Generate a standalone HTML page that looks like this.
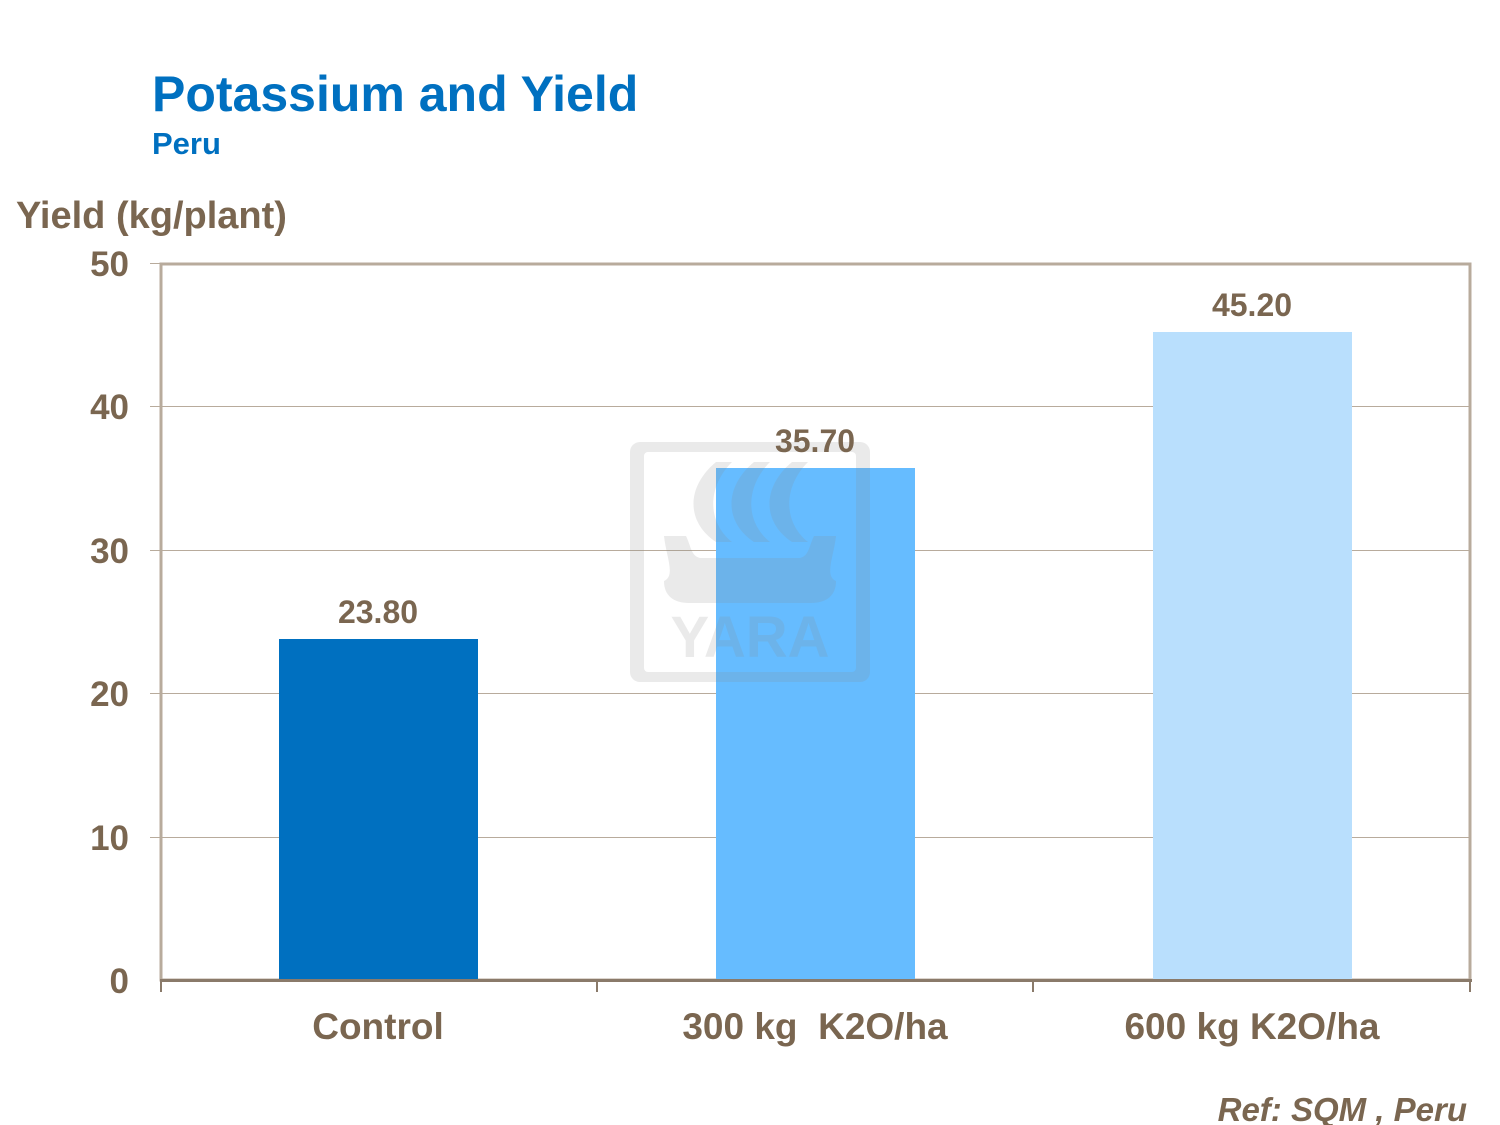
<!DOCTYPE html>
<html><head><style>
body{margin:0;background:#fff;}
svg{display:block;}
</style></head><body>
<svg width="1500" height="1125" xmlns="http://www.w3.org/2000/svg" font-family="Liberation Sans, Arial, sans-serif" font-weight="bold">
<text x="152" y="111" font-size="50" fill="#0070c0">Potassium and Yield</text>
<text x="152" y="154" font-size="31" fill="#0070c0">Peru</text>
<text x="16" y="228" font-size="38" fill="#7a6650">Yield (kg/plant)</text>
<g stroke="#b8ab9c" stroke-width="1">
<line x1="150" y1="406.5" x2="1470" y2="406.5"/>
<line x1="150" y1="550.5" x2="1470" y2="550.5"/>
<line x1="150" y1="693.5" x2="1470" y2="693.5"/>
<line x1="150" y1="837.5" x2="1470" y2="837.5"/>
<line x1="150" y1="263.5" x2="160" y2="263.5"/>
</g>
<rect x="161" y="264" width="1309" height="716" fill="none" stroke="#b8ab9c" stroke-width="3"/>
<rect x="279" y="639" width="199" height="341" fill="#0070c0"/>
<rect x="716" y="468" width="199" height="512" fill="#66bcff"/>
<rect x="1153" y="332" width="199" height="648" fill="#b9dffd"/>
<g fill="#888" fill-opacity="0.18">
<path d="M640 442h220a10 10 0 0 1 10 10v220a10 10 0 0 1-10 10h-220a10 10 0 0 1-10-10v-220a10 10 0 0 1 10-10zM644 456v212a4 4 0 0 0 4 4h204a4 4 0 0 0 4-4v-212a4 4 0 0 0-4-4h-204a4 4 0 0 0-4 4z" fill-rule="evenodd"/>
<path d="M716 462c-30 25-30 60 0 80h16c-25-20-25-55 0-80z"/>
<path d="M754 462c-30 25-30 60 0 80h16c-25-20-25-55 0-80z"/>
<path d="M792 462c-30 25-30 60 0 80h16c-25-20-25-55 0-80z"/>
<path d="M664 536h22c5 10 5 20 14 22h100c9-2 9-12 14-22h22c-2 20-12 40 0 45c0 15-10 22-25 22h-122c-15 0-25-7-25-22c12-5 2-25 0-45z"/>
<text x="750" y="657" font-size="58" text-anchor="middle">YARA</text>
</g>
<line x1="160" y1="980.5" x2="1472" y2="980.5" stroke="#8a7a6a" stroke-width="3"/>
<g stroke="#8a7a6a" stroke-width="2">
<line x1="161" y1="980" x2="161" y2="992"/>
<line x1="597" y1="980" x2="597" y2="992"/>
<line x1="1033" y1="980" x2="1033" y2="992"/>
<line x1="1470" y1="980" x2="1470" y2="992"/>
</g>
<g font-size="35" fill="#7a6650" text-anchor="end">
<text x="129" y="276">50</text>
<text x="129" y="419">40</text>
<text x="129" y="563">30</text>
<text x="129" y="706">20</text>
<text x="129" y="850">10</text>
<text x="129" y="993">0</text>
</g>
<g font-size="32" fill="#7a6650" text-anchor="middle">
<text x="378" y="623">23.80</text>
<text x="815" y="452">35.70</text>
<text x="1252" y="316">45.20</text>
</g>
<g font-size="37" fill="#7a6650" text-anchor="middle">
<text x="378" y="1039">Control</text>
<text x="815" y="1039" xml:space="preserve">300 kg  K2O/ha</text>
<text x="1252" y="1039">600 kg K2O/ha</text>
</g>
<text x="1467" y="1121" font-size="33" font-style="italic" fill="#7a6650" text-anchor="end">Ref: SQM , Peru</text>
</svg>
</body></html>
